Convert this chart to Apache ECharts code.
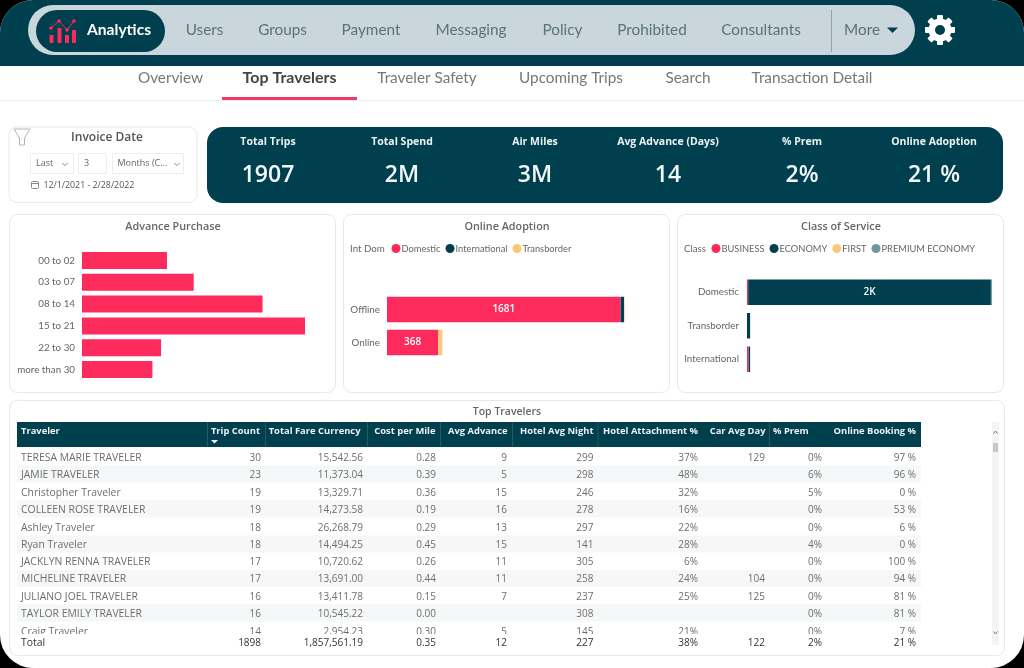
<!DOCTYPE html>
<html>
<head>
<meta charset="utf-8">
<title>Top Travelers</title>
<script src="https://cdn.jsdelivr.net/npm/echarts@6/dist/echarts.min.js"></script>
<style>
  html, body { margin: 0; padding: 0; background: #000; }
  #main { width: 1024px; height: 668px; }
</style>
</head>
<body>
<div id="main"></div>
<script>
// --- data ---
var navItems = ['Users', 'Groups', 'Payment', 'Messaging', 'Policy', 'Prohibited', 'Consultants'];
var subNavItems = ['Overview', 'Top Travelers', 'Traveler Safety', 'Upcoming Trips', 'Search', 'Transaction Detail'];
var kpiLabels = ['Total Trips', 'Total Spend', 'Air Miles', 'Avg Advance (Days)', '% Prem', 'Online Adoption'];
var kpiValues = ['1907', '2M', '3M', '14', '2%', '21 %'];

var advanceCategories = ['00 to 02', '03 to 07', '08 to 14', '15 to 21', '22 to 30', 'more than 30'];
var advanceValues = [216, 284, 459, 567, 201, 179];

var onlineCategories = ['Offline', 'Online'];
var onlineDomestic = [1681, 368];
var onlineInternational = [24, 1];
var onlineTransborder = [4, 29];

var classCategories = ['Domestic', 'Transborder', 'International'];
var classBusiness = [10, 0, 13];
var classEconomy = [2030, 26, 13];
var classFirst = [0, 0, 0];
var classPremium = [9, 0, 0];

var tableHeaders = ['Traveler', 'Trip Count', 'Total Fare Currency', 'Cost per Mile', 'Avg Advance', 'Hotel Avg Night', 'Hotel Attachment %', 'Car Avg Day', '% Prem', 'Online Booking %'];
var travelers = ['TERESA MARIE TRAVELER', 'JAMIE TRAVELER', 'Christopher Traveler', 'COLLEEN ROSE TRAVELER', 'Ashley Traveler', 'Ryan Traveler', 'JACKLYN RENNA TRAVELER', 'MICHELINE TRAVELER', 'JULIANO JOEL TRAVELER', 'TAYLOR EMILY TRAVELER', 'Craig Traveler'];
var tripCount = ['30', '23', '19', '19', '18', '18', '17', '17', '16', '16', '14'];
var totalFare = ['15,542.56', '11,373.04', '13,329.71', '14,273.58', '26,268.79', '14,494.25', '10,720.62', '13,691.00', '13,411.78', '10,545.22', '2,954.23'];
var costPerMile = ['0.28', '0.39', '0.36', '0.19', '0.29', '0.45', '0.26', '0.44', '0.15', '0.00', '0.30'];
var avgAdvance = ['9', '5', '15', '16', '13', '15', '11', '11', '7', '', '5'];
var hotelNight = ['299', '298', '246', '278', '297', '141', '305', '258', '237', '308', '145'];
var hotelAttach = ['37%', '48%', '32%', '16%', '22%', '28%', '6%', '24%', '25%', '', '21%'];
var carDay = ['129', '', '', '', '', '', '', '104', '125', '', ''];
var premPct = ['0%', '6%', '5%', '0%', '0%', '4%', '0%', '0%', '0%', '0%', '0%'];
var onlinePct = ['97 %', '96 %', '0 %', '53 %', '6 %', '0 %', '100 %', '94 %', '81 %', '81 %', '7 %'];
var totalsRow = ['Total', '1898', '1,857,561.19', '0.35', '12', '227', '38%', '122', '2%', '21 %'];

var TEAL = '#003F4E', PINK = '#FD2A5C', YELLOW = '#F8C977', SLATE = '#6B9A98';
var UI = '"Open Sans", "Noto Sans", sans-serif';
var NAV = 'Lato, "Open Sans", sans-serif';

function txt(x, y, s, size, color, align, weight, family) {
  return {
    type: 'text', x: x, y: y + 0.7, silent: true,
    style: {
      text: s, fill: color, fontSize: size, fontWeight: weight || 'normal', fontFamily: family || UI,
      align: align || 'left', textAlign: align || 'left', verticalAlign: 'middle', textVerticalAlign: 'middle'
    }
  };
}
function box(x, y, w, h, r, fill, stroke) {
  return {
    type: 'rect', silent: true,
    shape: { x: x, y: y, width: w, height: h, r: r || 0 },
    style: { fill: fill, stroke: stroke || null, lineWidth: stroke ? 1 : 0 }
  };
}

var g = [];
// page, header
g.push(box(0, 0, 1024, 668, 33, '#fff'));
g.push(box(0, 0, 1024, 66, [33, 33, 0, 0], TEAL));
g.push(box(28, 5, 887, 50, 25, '#C9D6DB'));
g.push(box(36, 10, 129, 42, 21, TEAL));
g.push(box(831, 10, 1, 42, 0, '#8FA3AB'));

// logo
[[49.5, 35], [57.5, 28], [65, 35], [72, 30]].forEach(function (b) {
  g.push(box(b[0], b[1], 4, 43 - b[1], 0, PINK));
});
g.push({
  type: 'polyline', silent: true,
  shape: { points: [[51, 28], [59, 21], [67, 30], [74, 21]] },
  style: { stroke: PINK, lineWidth: 1, fill: null }
});
[[51, 28], [59, 21], [67, 30], [74, 21]].forEach(function (p) {
  g.push({ type: 'circle', silent: true, shape: { cx: p[0], cy: p[1], r: 1.8 }, style: { fill: PINK } });
});
g.push(txt(87, 29.5, 'Analytics', 15.6, '#fff', 'left', 'bold', NAV));

var navCenters = [204.5, 282.5, 371, 471, 562.5, 652, 761];
navItems.forEach(function (n, i) { g.push(txt(navCenters[i], 29.7, n, 15.3, '#5B727B', 'center', 'normal', NAV)); });
g.push(txt(844, 29.7, 'More', 15.3, '#5B727B', 'left', 'normal', NAV));
g.push({ type: 'polygon', silent: true, shape: { points: [[887, 27.5], [898, 27.5], [892.5, 33]] }, style: { fill: TEAL } });

// gear
[0, 45, 90, 135].forEach(function (a) {
  g.push({
    type: 'rect', silent: true, x: 940, y: 30, rotation: a * Math.PI / 180,
    shape: { x: -3, y: -15, width: 6, height: 30, r: 1 }, style: { fill: '#fff' }
  });
});
g.push({ type: 'circle', silent: true, shape: { cx: 940, cy: 30, r: 11.5 }, style: { fill: '#fff' } });
g.push({ type: 'circle', silent: true, shape: { cx: 940, cy: 30, r: 5 }, style: { fill: TEAL } });

// sub nav
var subCenters = [170.5, 289.5, 427, 571, 688, 812];
subNavItems.forEach(function (n, i) {
  g.push(txt(subCenters[i], 77.6, n, i === 1 ? 16 : 15.3, i === 1 ? '#444' : '#777', 'center', i === 1 ? 'bold' : 'normal', NAV));
});
g.push(box(0, 100, 1024, 1, 0, '#EDEDED'));
g.push(box(222, 97, 135, 3, 0, '#EE3A64'));

// date slicer
g.push(box(9, 127, 188, 75.5, 8, '#fff', '#E8E8E8'));
g.push({
  type: 'polyline', silent: true,
  shape: { points: [[14, 129], [30, 129], [24.5, 138], [24.5, 145], [19.5, 145], [19.5, 138], [14, 129]] },
  style: { stroke: '#B5B5B5', lineWidth: 1, fill: null }
});
g.push(txt(107, 137, 'Invoice Date', 12, '#555', 'center', 600));
g.push(box(30.5, 153.5, 43, 20, 0, '#fff', '#EEE'));
g.push(box(78.5, 153.5, 28, 20, 0, '#fff', '#EEE'));
g.push(box(112.5, 153.5, 71, 20, 0, '#fff', '#EEE'));
g.push(txt(36, 163, 'Last', 9, '#666'));
g.push(txt(84, 163, '3', 9, '#666'));
g.push(txt(117.5, 163, 'Months (C...', 9, '#666'));
[[62, 163], [174, 163]].forEach(function (c) {
  g.push({
    type: 'polyline', silent: true,
    shape: { points: [[c[0], c[1]], [c[0] + 3, c[1] + 2.5], [c[0] + 6, c[1]]] },
    style: { stroke: '#999', lineWidth: 1, fill: null }
  });
});
g.push(box(31.5, 181.5, 7, 7, 1, null, '#888'));
g.push(box(31.5, 183, 7, 1, 0, '#888'));
g.push(txt(43.5, 185, '12/1/2021 - 2/28/2022', 8.8, '#555'));

// KPI band
g.push(box(207, 127, 796, 76, 16, TEAL));
var kpiCenters = [268, 402, 535, 668, 802, 934];
kpiLabels.forEach(function (l, i) {
  g.push(txt(kpiCenters[i], 141.3, l, 10.5, '#EAF2F4', 'center', 'bold'));
  g.push(txt(kpiCenters[i], 175, kpiValues[i], 23, '#F2F8F9', 'center', 600));
});

// chart panels
g.push(box(9.5, 214.5, 326, 178, 8, '#fff', '#E8E8E8'));
g.push(box(343.5, 214.5, 326, 178, 8, '#fff', '#E8E8E8'));
g.push(box(677.5, 214.5, 326, 178, 8, '#fff', '#E8E8E8'));
g.push(txt(173, 226, 'Advance Purchase', 10.8, '#666', 'center', 600));
g.push(txt(507, 226, 'Online Adoption', 10.8, '#666', 'center', 600));
g.push(txt(841, 226, 'Class of Service', 10.8, '#666', 'center', 600));
g.push(txt(350, 248, 'Int Dom', 9.7, '#666', 'left', 'normal', NAV));
g.push(txt(684, 248, 'Class', 9.7, '#666', 'left', 'normal', NAV));

// table
g.push(box(9.5, 400.5, 995, 255, 8, '#fff', '#E8E8E8'));
g.push(txt(507, 411, 'Top Travelers', 10.5, '#666', 'center', 600));
g.push(box(17, 422, 904, 25, 0, TEAL));
[207, 265, 367, 440, 512, 597.5, 769].forEach(function (x) {
  g.push(box(x, 422, 1, 25, 0, '#1F5A68'));
});
var rowY = [457, 474, 492, 509, 527, 544, 561.5, 578.5, 596, 613, 631];
var rowColumns = [travelers, tripCount, totalFare, costPerMile, avgAdvance, hotelNight, hotelAttach, carDay, premPct, onlinePct];
var colX = [21, 261, 363, 436, 507, 593.5, 698, 765, 822, 916];
var headX = [21, 260, 360.5, 435.5, 507.5, 593.5, 698, 765.5, 773, 916];
var headAlign = ['left', 'right', 'right', 'right', 'right', 'right', 'right', 'right', 'left', 'right'];

rowY.forEach(function (y, r) {
  if (r % 2 === 1) g.push(box(17, y - 8.5, 904, 17, 0, '#F6F7F8'));
});
rowColumns.forEach(function (col, c) {
  col.forEach(function (v, r) {
    if (v !== '') g.push(txt(colX[c], rowY[r], v, c === 0 ? 10.4 : 10, '#6E6E6E', c === 0 ? 'left' : 'right'));
  });
});
tableHeaders.forEach(function (h, c) {
  g.push(txt(headX[c], 430.5, h, 9.4, '#EAF2F4', headAlign[c], 'bold'));
});
g.push({ type: 'polygon', silent: true, shape: { points: [[211, 440], [218, 440], [214.5, 443.5]] }, style: { fill: '#fff' } });
// the last row is cut off by the scroll area
g.push(box(17, 634, 970, 17, 0, '#fff'));
totalsRow.forEach(function (v, c) {
  g.push(txt(colX[c], 642, v, c === 0 ? 10.4 : 10, '#333', c === 0 ? 'left' : 'right'));
});
// scrollbar
g.push(box(992, 422, 7, 223, 0, '#F4F4F4'));
g.push(box(993, 443, 5, 9, 0, '#C8C8C8'));
g.push({ type: 'polyline', silent: true, shape: { points: [[993.5, 433.5], [995.5, 431], [997.5, 433.5]] }, style: { stroke: '#777', lineWidth: 1, fill: null } });
g.push({ type: 'polyline', silent: true, shape: { points: [[993.5, 631.5], [995.5, 634], [997.5, 631.5]] }, style: { stroke: '#777', lineWidth: 1, fill: null } });

function hiddenX(idx, max) {
  return { type: 'value', gridIndex: idx, min: 0, max: max, show: false };
}
function catY(idx, data, margin) {
  return {
    type: 'category', gridIndex: idx, data: data, inverse: true,
    axisLine: { show: false }, axisTick: { show: false }, splitLine: { show: false },
    axisLabel: { color: '#666', fontSize: 9.8, fontFamily: NAV, margin: margin }
  };
}
function stackBar(name, values, idx, color, barWidth, label) {
  return {
    type: 'bar', name: name, data: values, stack: 'stack' + idx, xAxisIndex: idx, yAxisIndex: idx,
    barWidth: barWidth, itemStyle: { color: color }, label: label || { show: false }
  };
}
function legendBlock(names, left, gap) {
  return {
    data: names, left: left, top: 244, icon: 'circle', itemWidth: 9, itemHeight: 9, itemGap: gap,
    padding: 0, selectedMode: false,
    textStyle: { color: '#666', fontSize: 9.3, fontFamily: NAV, padding: [0, 0, 0, -4] }
  };
}

var chart = echarts.init(document.getElementById('main'));
chart.setOption({
  animation: false,
  backgroundColor: 'transparent',
  graphic: { elements: g },
  legend: [
    legendBlock(['Domestic', 'International', 'Transborder'], 391.5, 5),
    legendBlock(['BUSINESS', 'ECONOMY', 'FIRST', 'PREMIUM ECONOMY'], 711.5, 5)
  ],
  grid: [
    { left: 82, top: 249.5, width: 236, height: 131 },
    { left: 387, top: 293, width: 278, height: 66 },
    { left: 747, top: 275.5, width: 263, height: 100.5 }
  ],
  xAxis: [hiddenX(0, 600), hiddenX(1, 2000), hiddenX(2, 2200)],
  yAxis: [catY(0, advanceCategories, 7), catY(1, onlineCategories, 7), catY(2, classCategories, 8)],
  series: [
    {
      type: 'bar', name: 'Trips', data: advanceValues, xAxisIndex: 0, yAxisIndex: 0,
      barWidth: 17, itemStyle: { color: PINK }
    },
    stackBar('Domestic', onlineDomestic, 1, PINK, 25.5, {
      show: true, position: 'inside', color: '#fff', fontSize: 10, fontWeight: 600, fontFamily: UI
    }),
    stackBar('International', onlineInternational, 1, TEAL, 25.5),
    stackBar('Transborder', onlineTransborder, 1, YELLOW, 25.5),
    stackBar('BUSINESS', classBusiness, 2, PINK, 25.5),
    stackBar('ECONOMY', classEconomy, 2, TEAL, 25.5, {
      show: true, position: 'inside', color: '#fff', fontSize: 10, fontWeight: 600, fontFamily: UI,
      formatter: function (p) { return p.value >= 1000 ? Math.round(p.value / 1000) + 'K' : ''; }
    }),
    stackBar('FIRST', classFirst, 2, YELLOW, 25.5),
    stackBar('PREMIUM ECONOMY', classPremium, 2, SLATE, 25.5)
  ]
});
</script>
</body>
</html>
